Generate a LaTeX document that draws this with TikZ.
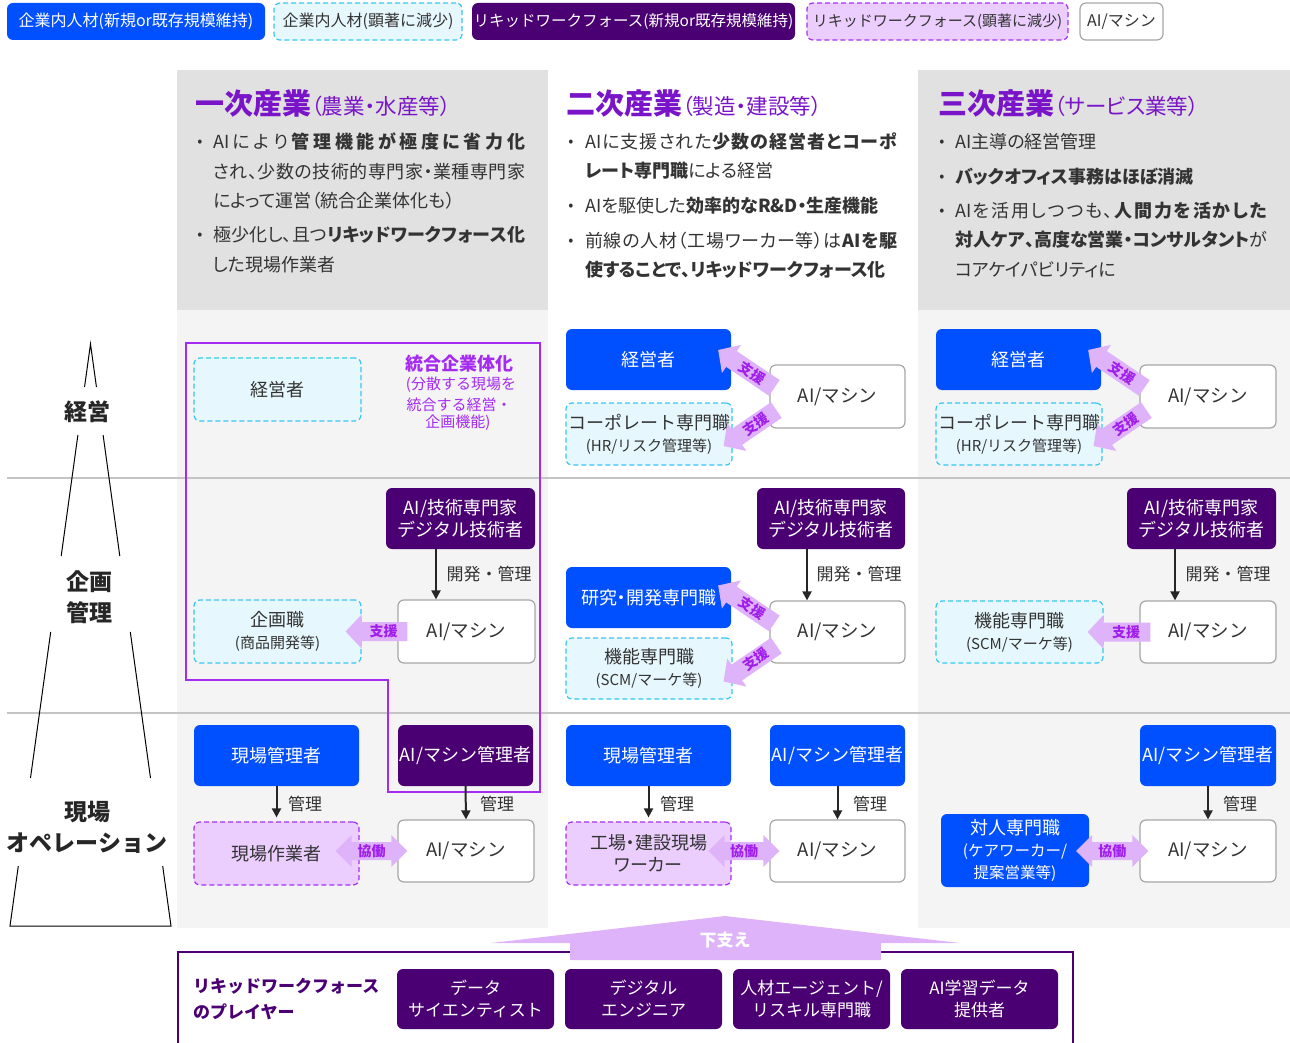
\documentclass[tikz,border=0pt]{standalone}
\usepackage{fontspec}
\setmainfont{Noto Sans CJK JP}
\usetikzlibrary{calc,arrows.meta}
\definecolor{cblue}{HTML}{0050FF}
\definecolor{cdpur}{HTML}{4A0072}
\definecolor{ccyanfill}{HTML}{E6F7FD}
\definecolor{ccyanline}{HTML}{38C6F2}
\definecolor{clpfill}{HTML}{EBCDFE}
\definecolor{clpline}{HTML}{A630F2}
\definecolor{csupfill}{HTML}{DFB3FA}
\definecolor{csuptext}{HTML}{A01EEA}
\definecolor{ctitle}{HTML}{7A14C8}
\definecolor{cgrayhead}{HTML}{E1E1E1}
\definecolor{cgraybody}{HTML}{F4F4F4}
\definecolor{ctext}{HTML}{333333}
\definecolor{cinteg}{HTML}{A52AF2}
\definecolor{csep}{HTML}{C4C4C4}
\newcommand\fs[2]{\fontsize{#1}{#2}\selectfont}
\newcommand\palt{\addfontfeature{RawFeature=+palt}}
\def\sprend{SPREND}
\def\spr#1{\sprloop#1\sprend}
\def\sprloop#1{\ifx\sprend#1\else#1\hskip0pt plus 1fil\expandafter\sprloop\fi}
\newcommand\jline[1]{\hbox to 312pt{#1\unskip}}
\newcommand\bx[7]{\node[#6, minimum width={(#4-#2)*1pt}, minimum height={(#5-#3)*1pt}] (#1) at ({(#2+#4)/2},{(#3+#5)/2}) {#7};}
\newcommand\supArrow[2]{%
 \path let \p1=#1, \p2=#2, \n1={atan2(\y2-\y1,\x2-\x1)}, \n2={veclen(\x2-\x1,\y2-\y1)} in \pgfextra{\xdef\SAang{\n1}\xdef\SAlen{\n2}\xdef\SAx{\x1}\xdef\SAy{\y1}};
 \begin{scope}[shift={(\SAx,\SAy)}, rotate=\SAang]
  \fill[csupfill] (0,0) -- (16,17) -- (16,9.5) -- (\SAlen,9.5) -- (\SAlen,-9.5) -- (16,-9.5) -- (16,-17) -- cycle;
  \node[suptext, transform shape] at ({(\SAlen+16)/2-1},0) {支援};
 \end{scope}}
\newcommand\coArrow[2]{%
 \fill[csupfill] let \p1=#1, \p2=#2 in
 (\x1,\y2) -- (\x1+16pt,\y2+16pt) -- (\x1+16pt,\y2+9pt) -- (\x2-16pt,\y2+9pt) -- (\x2-16pt,\y2+16pt) -- (\x2,\y2) -- (\x2-16pt,\y2-16pt) -- (\x2-16pt,\y2-9pt) -- (\x1+16pt,\y2-9pt) -- (\x1+16pt,\y2-16pt) -- cycle;
 \path let \p1=#1, \p2=#2 in node[suptext] at ({(\x1+\x2)/2},\y2) {協働};}
\begin{document}
\begin{tikzpicture}[x=1pt,y=-1pt,
 base/.style={rounded corners=6pt, align=center, inner sep=0pt, font=\fs{18}{22}, text=ctext},
 bluebox/.style={base, fill=cblue, text=white},
 dpbox/.style={base, fill=cdpur, text=white},
 cyanbox/.style={base, fill=ccyanfill, draw=ccyanline, line width=1.2pt, dash pattern=on 5pt off 3pt},
 lpbox/.style={base, fill=clpfill, draw=clpline, line width=1.2pt, dash pattern=on 5pt off 3pt},
 aibox/.style={base, fill=white, draw=black!35, line width=1.2pt, font=\fs{18.5}{22}},
 lgd/.style={font=\fs{16}{18}},
 hl/.style={anchor=base west, inner sep=0pt, font=\fs{18}{20}\palt, text=ctext},
 bul/.style={inner sep=0pt, font=\fs{15}{16}, text=ctext},
 ttl/.style={anchor=base west, inner sep=0pt, text=ctitle, font=\palt},
 lab/.style={inner sep=0pt, font=\fs{17}{20}, text=ctext},
 arr/.style={-{Triangle[length=9pt,width=9pt]}, line width=2pt, draw=black!85},
 suptext/.style={inner sep=0pt, font=\fs{14}{16}\bfseries, text=csuptext},
 pyr/.style={align=center, inner sep=0pt, font=\fs{23}{31}\bfseries, text=black!85},
 integ/.style={inner sep=0pt, font=\fs{15}{18}, text=cinteg}]
\useasboundingbox (0,0) rectangle (1290,1043);
% backgrounds
\fill[cgrayhead] (177,70) rectangle (548,310);
\fill[cgraybody] (177,310) rectangle (548,928);
\fill[cgrayhead] (918,70) rectangle (1290,310);
\fill[cgraybody] (918,310) rectangle (1290,928);
\draw[csep, line width=1.2pt] (7,478) -- (1290,478);
\draw[csep, line width=1.2pt] (7,713) -- (1290,713);
% legend
\bx{lg1}{7}{3}{265}{40}{bluebox, lgd}{企業内人材(新規or既存規模維持)}
\bx{lg2}{274}{3}{462}{40}{cyanbox, lgd}{企業内人材(顕著に減少)}
\bx{lg3}{472}{3}{795}{40}{dpbox, lgd, font=\fs{15.5}{18}}{リキッドワークフォース(新規or既存規模維持)}
\bx{lg4}{807}{3}{1068}{40}{lpbox, lgd, font=\fs{15}{18}}{リキッドワークフォース(顕著に減少)}
\bx{lg5}{1080}{3}{1163}{40}{aibox, lgd}{AI/マシン}
% pyramid
\draw[black, line width=1pt] (84.55,387) -- (90.5,344) -- (96.45,387);
\draw[black, line width=1pt] (77.9,435) -- (61.2,556);
\draw[black, line width=1pt] (103.1,435) -- (119.8,556);
\draw[black, line width=1pt] (50.7,632) -- (30.5,778);
\draw[black, line width=1pt] (130.3,632) -- (150.5,778);
\draw[black, line width=1pt] (18.3,866) -- (10,926) -- (171,926) -- (162.7,866);
\node[pyr] (py1) at (87,412) {経営};
\node[pyr] (py2) at (89,597) {企画\\管理};
\node[pyr] (py3) at (87,827) {現場\\オペレーション};
% column headers
\node[ttl] (t1) at (195,115) {{\fs{29}{30}\bfseries 一次産業}{\fs{21.5}{22}（農業・水産等）}};
\node[bul] (b11) at (200,143) {•};
\node[hl] (h11) at (213,148.5) {\jline{\spr{{AI}により}\textbf{\spr{管理機能が極度に省力化}}}};
\node[hl] (h12) at (213,178.5) {\jline{\spr{され、少数の技術的専門家・業種専門家}}};
\node[hl] (h13) at (213,207.5) {によって運営（統合企業体化も）};
\node[bul] (b12) at (200,236) {•};
\node[hl] (h14) at (213,241.5) {\jline{\spr{極少化し、且つ}\textbf{\spr{リキッドワークフォース化}}}};
\node[hl] (h15) at (213,271.5) {した現場作業者};
\node[ttl] (t2) at (566,115) {{\fs{29}{30}\bfseries 二次産業}{\fs{21.5}{22}（製造・建設等）}};
\node[bul] (b21) at (571,143) {•};
\node[hl] (h21) at (585,148.5) {\jline{\spr{{AI}に支援された}\textbf{\spr{少数の経営者とコーポ}}}};
\node[hl] (h22) at (585,177.5) {\textbf{レート専門職}による経営};
\node[bul] (b22) at (571,207) {•};
\node[hl] (h23) at (585,212.5) {AIを駆使した\textbf{効率的なR\&D・生産機能}};
\node[bul] (b23) at (571,242) {•};
\node[hl] (h24) at (585,247.5) {\jline{\spr{前線の人材（工場ワーカー等）は}\textbf{\spr{{AI}を駆}}}};
\node[hl] (h25) at (585,276.5) {\textbf{使することで、リキッドワークフォース化}};
\node[ttl] (t3) at (938,115) {{\fs{29}{30}\bfseries 三次産業}{\fs{21.5}{22}（サービス業等）}};
\node[bul] (b31) at (942,143) {•};
\node[hl] (h31) at (955,148.5) {AI主導の経営管理};
\node[bul] (b32) at (942,178) {•};
\node[hl] (h32) at (955,183.5) {\textbf{バックオフィス事務はほぼ消滅}};
\node[bul] (b33) at (942,212) {•};
\node[hl] (h33) at (955,217.5) {\jline{\spr{{AI}を活用しつつも、}\textbf{\spr{人間力を活かした}}}};
\node[hl] (h34) at (955,246.5) {\jline{\textbf{\spr{対人ケア、高度な営業・コンサルタント}}が}};
\node[hl] (h35) at (955,276.5) {コアケイパビリティに};
% integration outline (col1)
\draw[cinteg, line width=1.4pt] (186,343) -- (540,343) -- (540,792) -- (388,792) -- (388,680) -- (186,680) -- cycle;
\node[integ, font=\fs{18}{20}\bfseries] (ig1) at (459,364) {統合企業体化};
\node[integ] (ig2) at (461,385) {(分散する現場を};
\node[integ] (ig3) at (459,405) {統合する経営・};
\node[integ] (ig4) at (458,423) {企画機能)};
% column 1 boxes
\bx{c1ke}{194}{358}{361}{421}{cyanbox}{経営者}
\bx{c1tech}{386}{488}{535}{549}{dpbox}{AI/技術専門家\\デジタル技術者}
\bx{c1ai2}{398}{600}{535}{663}{aibox}{AI/マシン}
\bx{c1kik}{194}{600}{361}{663}{cyanbox}{企画職\\{\fs{15}{18}(商品開発等)}}
\bx{c1gm}{194}{725}{359}{786}{bluebox}{現場管理者}
\bx{c1aim}{398}{725}{533}{786}{dpbox}{AI/マシン管理者}
\bx{c1gw}{194}{822}{359}{885}{lpbox}{現場作業者}
\bx{c1ai3}{398}{820}{534}{882}{aibox}{AI/マシン}
% column 2 boxes
\bx{c2ke}{566}{329}{731}{390}{bluebox}{経営者}
\bx{c2co}{566}{403}{732}{465}{cyanbox}{コーポレート専門職\\{\fs{15}{18}(HR/リスク管理等)}}
\bx{c2ai1}{770}{365}{905}{428}{aibox}{AI/マシン}
\bx{c2tech}{757}{488}{905}{549}{dpbox}{AI/技術専門家\\デジタル技術者}
\bx{c2rd}{566}{567}{731}{628}{bluebox, font=\fs{18}{22}\palt}{研究・開発専門職}
\bx{c2fn}{566}{638}{732}{699}{cyanbox}{機能専門職\\{\fs{15}{18}(SCM/マーケ等)}}
\bx{c2ai2}{770}{601}{905}{663}{aibox}{AI/マシン}
\bx{c2gm}{566}{725}{731}{786}{bluebox}{現場管理者}
\bx{c2aim}{770}{725}{905}{786}{bluebox}{AI/マシン管理者}
\bx{c2gw}{566}{822}{731}{885}{lpbox, font=\fs{18}{22}\palt}{工場・建設現場\\ワーカー}
\bx{c2ai3}{770}{820}{905}{882}{aibox}{AI/マシン}
% column 3 boxes
\bx{c3ke}{936}{329}{1101}{390}{bluebox}{経営者}
\bx{c3co}{936}{403}{1102}{465}{cyanbox}{コーポレート専門職\\{\fs{15}{18}(HR/リスク管理等)}}
\bx{c3ai1}{1140}{365}{1276}{428}{aibox}{AI/マシン}
\bx{c3tech}{1127}{488}{1276}{549}{dpbox}{AI/技術専門家\\デジタル技術者}
\bx{c3fn}{936}{601}{1103}{663}{cyanbox}{機能専門職\\{\fs{15}{18}(SCM/マーケ等)}}
\bx{c3ai2}{1140}{601}{1276}{663}{aibox}{AI/マシン}
\bx{c3aim}{1140}{725}{1276}{786}{bluebox}{AI/マシン管理者}
\bx{c3tp}{941}{814}{1089}{887}{bluebox}{対人専門職\\{\fs{15.5}{19}(ケアワーカー/}\\{\fs{15.5}{19}提案営業等)}}
\bx{c3ai3}{1140}{820}{1276}{882}{aibox}{AI/マシン}
% vertical arrows
\draw[arr] ([xshift=-24.5pt]c1tech.south) -- ([xshift=-24.5pt]c1tech.south |- c1ai2.north);
\node[lab] (l1) at (489,574) {開発・管理};
\draw[arr] ([xshift=-24pt]c2tech.south) -- ([xshift=-24pt]c2tech.south |- c2ai2.north);
\node[lab] (l2) at (859,574) {開発・管理};
\draw[arr] ([xshift=-26.5pt]c3tech.south) -- ([xshift=-26.5pt]c3tech.south |- c3ai2.north);
\node[lab] (l3) at (1228,574) {開発・管理};
\draw[arr] (c1gm.south) -- ([yshift=4pt]c1gw.north);
\node[lab] (m1) at (305,804) {管理};
\draw[arr] (c1aim.south) -- (c1ai3.north);
\node[lab] (m2) at (497,804) {管理};
\draw[arr] (c2gm.south) -- ([yshift=4pt]c2gw.north);
\node[lab] (m3) at (677,804) {管理};
\draw[arr] (c2aim.south) -- (c2ai3.north);
\node[lab] (m4) at (870,804) {管理};
\draw[arr] (c3aim.south) -- (c3ai3.north);
\node[lab] (m5) at (1240,804) {管理};
% support arrows
\supArrow{([xshift=-16pt]c1kik.east)}{([xshift=10pt]c1ai2.west)}
\supArrow{([xshift=-16pt]c3fn.east)}{([xshift=11pt]c3ai2.west)}
\supArrow{([shift={(-13,-9.5)}]c2ke.east)}{([shift={(5,-8.5)}]c2ai1.west)}
\supArrow{([shift={(-9,12)}]c2co.east)}{([shift={(7,13.5)}]c2ai1.west)}
\supArrow{([shift={(-13,-12)}]c2rd.east)}{([shift={(5,-8.5)}]c2ai2.west)}
\supArrow{([shift={(-9,13)}]c2fn.east)}{([shift={(7,13.5)}]c2ai2.west)}
\supArrow{([shift={(-13,-9.5)}]c3ke.east)}{([shift={(5,-8.5)}]c3ai1.west)}
\supArrow{([shift={(-9,12)}]c3co.east)}{([shift={(7,13.5)}]c3ai1.west)}
% cooperation arrows
\coArrow{([xshift=-24pt]c1gw.east)}{([xshift=10pt]c1ai3.west)}
\coArrow{([xshift=-23pt]c2gw.east)}{([xshift=10pt]c2ai3.west)}
\coArrow{([xshift=-13pt]c3tp.east)}{([xshift=9pt]c3ai3.west)}
% bottom players
\draw[cdpur, line width=2pt] (178,952) rectangle (1073,1070);
\fill[csupfill] (491,943) -- (725,916) -- (960,943) -- (881,943) -- (881,960) -- (570,960) -- (570,943) -- cycle;
\node[inner sep=0pt, font=\fs{17}{20}\bfseries, text=white] (sasae) at (725,940) {下支え};
\node[anchor=west, inner sep=0pt, font=\fs{17}{20}\bfseries, text=cdpur] (pl0a) at (193,986) {リキッドワークフォース};
\node[anchor=west, inner sep=0pt, font=\fs{17}{20}\bfseries, text=cdpur] (pl0b) at (193,1012) {のプレイヤー};
\bx{pl1}{397}{969}{554}{1029}{dpbox, font=\fs{17}{22}}{データ\\サイエンティスト}
\bx{pl2}{565}{969}{722}{1029}{dpbox, font=\fs{17}{22}}{デジタル\\エンジニア}
\bx{pl3}{733}{969}{890}{1029}{dpbox, font=\fs{17}{22}}{人材エージェント/\\リスキル専門職}
\bx{pl4}{901}{969}{1058}{1029}{dpbox, font=\fs{17}{22}}{AI学習データ\\提供者}
\end{tikzpicture}
\end{document}
